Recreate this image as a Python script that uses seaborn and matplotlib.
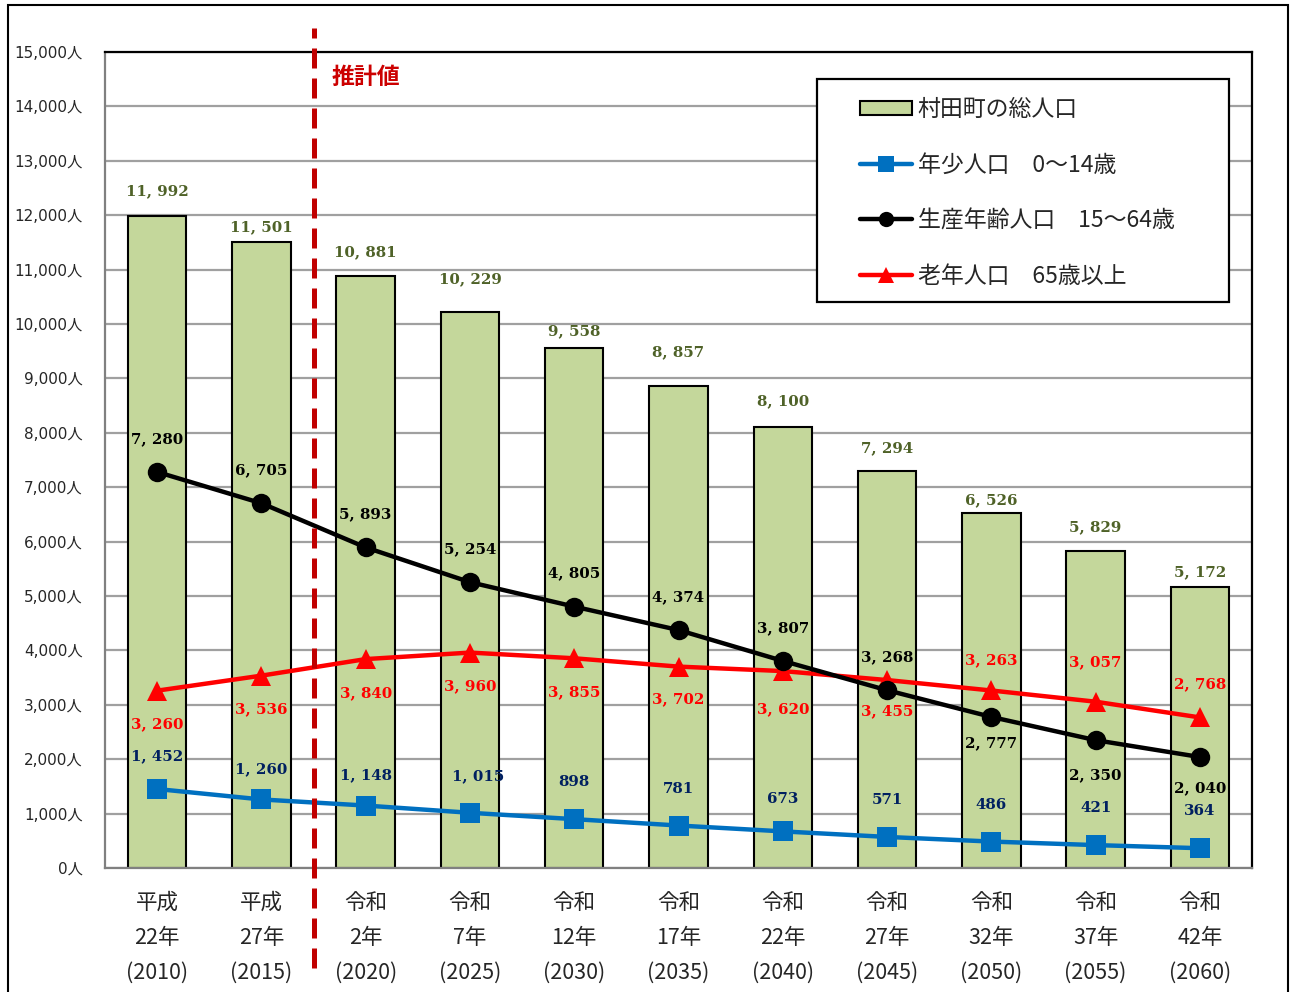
import numpy as np
import pandas as pd
import matplotlib
matplotlib.use('Agg')
import matplotlib.pyplot as plt
import seaborn as sns
from matplotlib.patches import Patch, Rectangle
from matplotlib.lines import Line2D

# data
years = ['2010', '2015', '2020', '2025', '2030', '2035', '2040', '2045', '2050', '2055', '2060']
eras = ['平成', '平成', '令和', '令和', '令和', '令和', '令和', '令和', '令和', '令和', '令和']
era_years = ['22年', '27年', '2年', '7年', '12年', '17年', '22年', '27年', '32年', '37年', '42年']
total = [11992, 11501, 10881, 10229, 9558, 8857, 8100, 7294, 6526, 5829, 5172]
young = [1452, 1260, 1148, 1015, 898, 781, 673, 571, 486, 421, 364]
working = [7280, 6705, 5893, 5254, 4805, 4374, 3807, 3268, 2777, 2350, 2040]
old = [3260, 3536, 3840, 3960, 3855, 3702, 3620, 3455, 3263, 3057, 2768]

legend_labels = ['村田町の総人口', '年少人口\u30000～14歳', '生産年齢人口\u300015～64歳', '老年人口\u300065歳以上']
y_ticks = list(range(0, 16000, 1000))

# label offsets in pixels (as placed in the original chart)
total_dy = [24, 15, 24, 32, 17, 34, 26, 23, 13, 24, 14]
young_dy = [33, 30, 30, 37, 37, 37, 32, 37, 37, 37, 37]
young_dx = [0, 0, 0, 8, 0, 0, 0, 0, 0, 0, 0]
working_dy = [33, 33, 33, 33, 33, 33, 33, 33, -26, -35, -31]
old_dy = [-34, -34, -34, -34, -34, -33, -38, -31, 30, 40, 33]

sns.set_style('white')
plt.rcParams['font.family'] = ['Noto Sans CJK JP', 'DejaVu Sans']

df = pd.DataFrame({'year': years, 'total': total})
x = np.arange(len(years))

fig = plt.figure(figsize=(12.9, 9.92), dpi=100)
ax = fig.add_axes([105 / 1290, 1 - 868 / 992, 1147 / 1290, 816 / 992])

# horizontal grid
ax.set_axisbelow(True)
ax.yaxis.grid(True, color='#a0a0a0', linewidth=1.6)

sns.barplot(data=df, x='year', y='total', color='#C4D79B', saturation=1,
            edgecolor='black', linewidth=1.5, width=0.56, ax=ax, zorder=2)

line_style = dict(linewidth=3.2, zorder=4, legend=False, markeredgewidth=0)
sns.lineplot(x=x, y=young, color='#0070C0', marker='s', markersize=14, ax=ax, **line_style)
sns.lineplot(x=x, y=old, color='#FF0000', marker='^', markersize=15, ax=ax, **line_style)
sns.lineplot(x=x, y=working, color='black', marker='o', markersize=14, ax=ax, **line_style)


def fmt(v):
    return f'{v:,}'.replace(',', ', ')


px = 0.72  # pixels -> points at 100 dpi
lab_font = dict(family='DejaVu Serif', fontweight='bold', fontsize=10.8,
                ha='center', va='center', zorder=6, textcoords='offset points')
for i in range(len(years)):
    ax.annotate(fmt(total[i]), (i, total[i]), xytext=(0, total_dy[i] * px),
                color='#4F6228', **lab_font)
    ax.annotate(fmt(young[i]), (i, young[i]), xytext=(young_dx[i] * px, young_dy[i] * px),
                color='#002060', **lab_font)
    ax.annotate(fmt(working[i]), (i, working[i]), xytext=(0, working_dy[i] * px),
                color='black', **lab_font)
    ax.annotate(fmt(old[i]), (i, old[i]), xytext=(0, old_dy[i] * px),
                color='#FF0000', **lab_font)

# estimate boundary
ax.axvline(1.5, ymin=-0.1225, ymax=1.029, color='#C00000', linewidth=3.6,
           dashes=(4, 2), clip_on=False, zorder=5)
ax.text((332 - 105) / 1147, 1 - (77 - 52) / 816, '推計値', transform=ax.transAxes,
        color='#CC0000', fontsize=16.5, fontweight='bold', va='center', ha='left')

ax.set_xlim(-0.5, len(years) - 0.5)
ax.set_ylim(0, 15000)
ax.set_yticks(y_ticks)
ax.set_yticklabels([f'{v:,}人' for v in y_ticks], fontsize=11,
                   family=['DejaVu Sans', 'Noto Sans CJK JP'])
ax.set_xticks(x)
ax.set_xticklabels([f'{e}\n{y}\n({yr})' for e, y, yr in zip(eras, era_years, years)],
                   fontsize=15.5, linespacing=1.78)
ax.tick_params(axis='both', length=0)
ax.tick_params(axis='y', pad=16)
ax.tick_params(axis='x', pad=17)
ax.set_xlabel('')
ax.set_ylabel('')

for side in ['top', 'right']:
    ax.spines[side].set_color('black')
    ax.spines[side].set_linewidth(1.6)
for side in ['left', 'bottom']:
    ax.spines[side].set_color('#808080')
    ax.spines[side].set_linewidth(1.6)

# legend frame drawn separately so its size matches the original
ax.add_patch(Rectangle(((817 - 105) / 1147, (868 - 302) / 816), (1229 - 817) / 1147,
                       (302 - 79) / 816, transform=ax.transAxes, facecolor='white',
                       edgecolor='black', linewidth=1.6, zorder=8, clip_on=False))
handles = [
    Patch(facecolor='#C4D79B', edgecolor='black', linewidth=1.5),
    Line2D([], [], color='#0070C0', marker='s', markersize=11, linewidth=3.2, markeredgewidth=0),
    Line2D([], [], color='black', marker='o', markersize=11, linewidth=3.2, markeredgewidth=0),
    Line2D([], [], color='#FF0000', marker='^', markersize=12, linewidth=3.2, markeredgewidth=0),
]
leg = ax.legend(handles, legend_labels, loc='upper left',
                bbox_to_anchor=((860 - 105) / 1147, (868 - 98) / 816),
                fontsize=16.5, frameon=False,
                handlelength=2.27, handleheight=0.6, handletextpad=0.25,
                labelspacing=1.42, borderpad=0, borderaxespad=0)
leg.set_zorder(10)

# outer frame around the whole picture
fig.patches.append(Rectangle((8 / 1290, -0.02), 1280 / 1290, 1.02 - 5 / 992,
                             transform=fig.transFigure, fill=False,
                             edgecolor='black', linewidth=1.5))

fig.savefig('out.png', dpi=100)
